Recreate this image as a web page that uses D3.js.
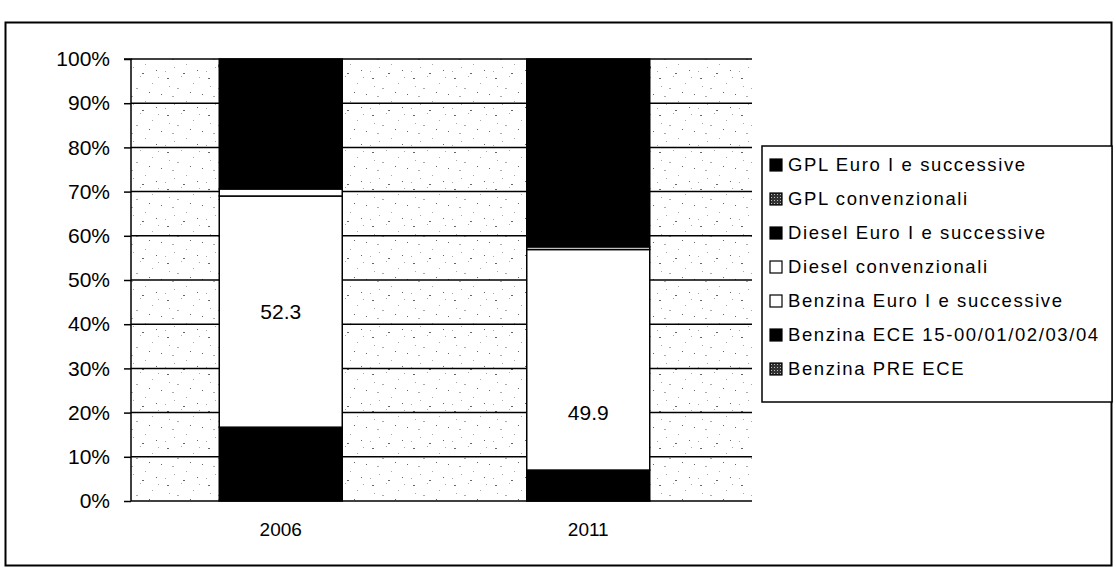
<!DOCTYPE html>
<html>
<head>
<meta charset="utf-8">
<script src="https://cdn.jsdelivr.net/npm/d3@7"></script>
<style>
  html, body { margin: 0; padding: 0; background: #fff; }
  svg { display: block; font-family: "Liberation Sans", Arial, sans-serif; }
</style>
</head>
<body>
<svg id="chart" width="1116" height="576"></svg>
<script>
// Composizione del parco veicoli per tipologia (valori percentuali)
const years = ["2006", "2011"];
const seriesNames = [
  "Benzina PRE ECE",
  "Benzina ECE 15-00/01/02/03/04",
  "Benzina Euro I e successive",
  "Diesel convenzionali",
  "Diesel Euro I e successive",
  "GPL convenzionali",
  "GPL Euro I e successive"
];
const benzinaPreEce   = [0.2, 0.1];
const benzinaEce      = [16.5, 6.9];
const benzinaEuro     = [52.3, 49.9];
const dieselConv      = [1.6, 0.6];
const dieselEuro      = [27.7, 40.5];
const gplConv         = [0.3, 0.2];
const gplEuro         = [1.4, 1.8];
const yTicks = [0, 10, 20, 30, 40, 50, 60, 70, 80, 90, 100];

const seriesValues = [benzinaPreEce, benzinaEce, benzinaEuro, dieselConv, dieselEuro, gplConv, gplEuro];
const table = years.map((y, i) => {
  const row = { year: y };
  seriesNames.forEach((s, k) => { row[s] = seriesValues[k][i]; });
  return row;
});

const svg = d3.select("#chart");
const defs = svg.append("defs");

// sparse speckled fill used for the plot background
const bg = defs.append("pattern").attr("id", "speckle")
  .attr("patternUnits", "userSpaceOnUse").attr("width", 41).attr("height", 37);
bg.append("rect").attr("width", 41).attr("height", 37).attr("fill", "#fff");
[[3,4],[17,2],[29,9],[38,20],[8,22],[22,27],[33,33],[1,34],[13,14],[26,18],[35,3],[10,30],[19,36],[5,12]]
  .forEach(([px, py], i) => {
    bg.append("rect").attr("x", px).attr("y", py).attr("width", i % 4 === 0 ? 2 : 1).attr("height", 1)
      .attr("fill", i % 3 === 0 ? "#666" : "#aaa");
  });

// dark dotted fill for the "convenzionali"/"PRE ECE" categories
const dot = defs.append("pattern").attr("id", "darkdots")
  .attr("patternUnits", "userSpaceOnUse").attr("width", 3).attr("height", 3);
dot.append("rect").attr("width", 3).attr("height", 3).attr("fill", "#333");
dot.append("rect").attr("x", 1).attr("y", 1).attr("width", 1).attr("height", 1).attr("fill", "#bbb");

const fills = {
  "Benzina PRE ECE": "url(#darkdots)",
  "Benzina ECE 15-00/01/02/03/04": "#000",
  "Benzina Euro I e successive": "#fff",
  "Diesel convenzionali": "#fff",
  "Diesel Euro I e successive": "#000",
  "GPL convenzionali": "url(#darkdots)",
  "GPL Euro I e successive": "#000"
};

// outer frame
svg.append("rect").attr("x", 5.5).attr("y", 22.5).attr("width", 1106).attr("height", 543)
  .attr("fill", "none").attr("stroke", "#000").attr("stroke-width", 2);

const plot = { left: 131, right: 752, top: 59, bottom: 501 };

const y = d3.scaleLinear().domain([0, 100]).range([plot.bottom, plot.top]);
const x = d3.scaleBand().domain(years).range([plot.left - 4, plot.right - 10]).paddingInner(0.6).paddingOuter(0.3);

// plot area
svg.append("rect").attr("x", plot.left).attr("y", plot.top)
  .attr("width", plot.right - plot.left).attr("height", plot.bottom - plot.top)
  .attr("fill", "url(#speckle)");

// gridlines
svg.append("g").selectAll("line").data(yTicks.filter(t => t > 0)).join("line")
  .attr("x1", plot.left).attr("x2", plot.right)
  .attr("y1", d => y(d)).attr("y2", d => y(d))
  .attr("stroke", "#000").attr("stroke-width", 1.5);

// stacked bars
const stack = d3.stack().keys(seriesNames);
const layers = stack(table);
svg.append("g").selectAll("g").data(layers).join("g")
  .attr("fill", d => fills[d.key])
  .selectAll("rect").data(d => d).join("rect")
  .attr("x", d => x(d.data.year))
  .attr("width", x.bandwidth())
  .attr("y", d => y(d[1]))
  .attr("height", d => y(d[0]) - y(d[1]))
  .attr("stroke", "#000").attr("stroke-width", 1.5);

// value labels on the "Benzina Euro I e successive" segment
const labelAnchor = { "2006": 0.5, "2011": 0.26 };
const euroLayer = layers.find(l => l.key === "Benzina Euro I e successive");
svg.append("g").selectAll("text").data(euroLayer).join("text")
  .attr("x", d => x(d.data.year) + x.bandwidth() / 2)
  .attr("y", d => y(d[0] + (d[1] - d[0]) * labelAnchor[d.data.year]))
  .attr("dy", "0.35em")
  .attr("text-anchor", "middle")
  .attr("font-size", 21)
  .text(d => d.data["Benzina Euro I e successive"].toFixed(1));

// y axis
const yAxis = d3.axisLeft(y).tickValues(yTicks).tickFormat(d => d + "%").tickSize(7).tickPadding(14);
const yg = svg.append("g").attr("transform", `translate(${plot.left},0)`).call(yAxis);
yg.select(".domain").attr("stroke-width", 1.5).attr("d", `M-7,${plot.top}H0V${plot.bottom}`);
yg.selectAll(".tick line").attr("stroke-width", 1.5);
yg.selectAll("text").attr("font-size", 21).attr("fill", "#000").attr("font-family", "Liberation Sans, Arial, sans-serif");

// x axis
const xAxis = d3.axisBottom(x).tickSize(0).tickPadding(22);
const xg = svg.append("g").attr("transform", `translate(0,${plot.bottom})`).call(xAxis);
xg.select(".domain").attr("stroke-width", 1.5).attr("d", `M${plot.left},0H${plot.right}`);
xg.selectAll("text").attr("font-size", 19).attr("fill", "#000").attr("font-family", "Liberation Sans, Arial, sans-serif");

// legend
const legend = svg.append("g");
legend.append("rect").attr("x", 762).attr("y", 146).attr("width", 350).attr("height", 256)
  .attr("fill", "#fff").attr("stroke", "#000").attr("stroke-width", 1.5);
const legendOrder = seriesNames.slice().reverse();
const li = legend.selectAll("g.item").data(legendOrder).join("g").attr("class", "item")
  .attr("transform", (d, i) => `translate(770,${165 + i * 34})`);
li.append("rect").attr("x", 0).attr("y", -6).attr("width", 12).attr("height", 12)
  .attr("fill", d => fills[d]).attr("stroke", "#000").attr("stroke-width", 1.2);
li.append("text").attr("x", 18).attr("dy", "0.35em")
  .attr("font-size", 18.5).attr("letter-spacing", 1.6)
  .text(d => d);
</script>
</body>
</html>
